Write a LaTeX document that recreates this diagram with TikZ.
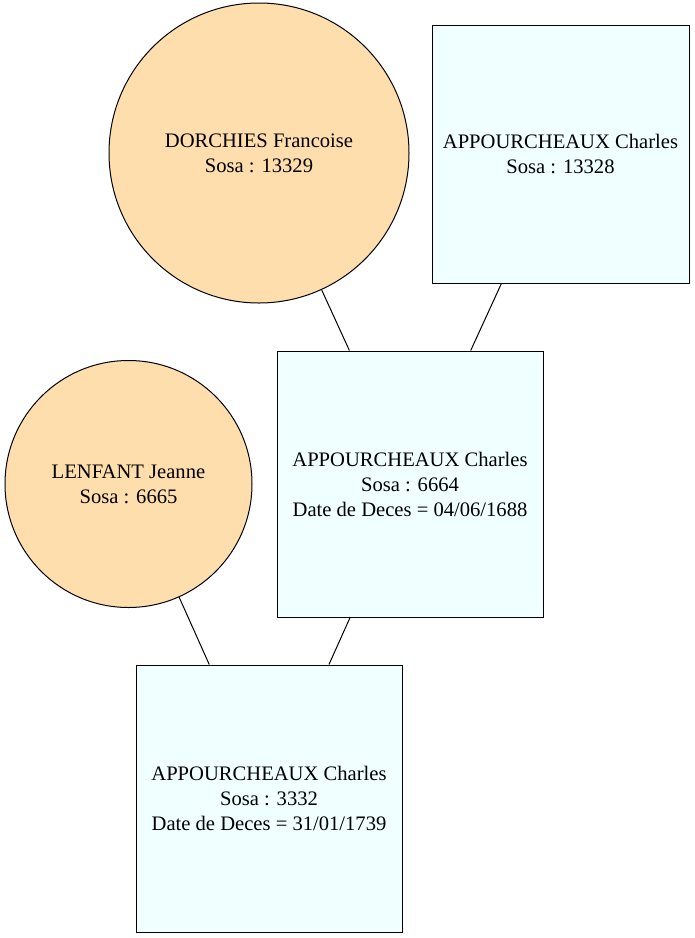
\documentclass[tikz,border=0pt]{standalone}
\usepackage{fontspec}
\setmainfont{Liberation Serif}
\definecolor{navajo}{RGB}{255,222,173}
\definecolor{azurebox}{RGB}{240,255,255}

\begin{document}
\begin{tikzpicture}[
  x=1pt, y=-1pt, line width=1pt,
  every node/.style={font=\fontsize{20.6}{25}\selectfont, align=center, draw=black, inner sep=0pt},
  woman/.style={circle, fill=navajo},
  man/.style={rectangle, fill=azurebox},
]

\useasboundingbox (0,0) rectangle (695,938);

\node[woman, minimum size=300pt] (dorchies) at (259,153) {DORCHIES Francoise\\Sosa : 13329};
\node[man, minimum width=257pt, minimum height=258pt] (charles13328) at (560.5,154) {APPOURCHEAUX Charles\\Sosa : 13328};
\node[man, minimum width=266pt, minimum height=266pt] (charles6664) at (410,484) {APPOURCHEAUX Charles\\Sosa : 6664\\Date de Deces = 04/06/1688};
\node[woman, minimum size=247pt] (lenfant) at (128.5,484) {LENFANT Jeanne\\Sosa : 6665};
\node[man, minimum width=266pt, minimum height=267pt] (charles3332) at (269,798.5) {APPOURCHEAUX Charles\\Sosa : 3332\\Date de Deces = 31/01/1739};

\draw (dorchies) -- (charles6664);
\draw (charles13328) -- (charles6664);
\draw (lenfant) -- (charles3332);
\draw (charles6664) -- (charles3332);
\end{tikzpicture}
\end{document}
